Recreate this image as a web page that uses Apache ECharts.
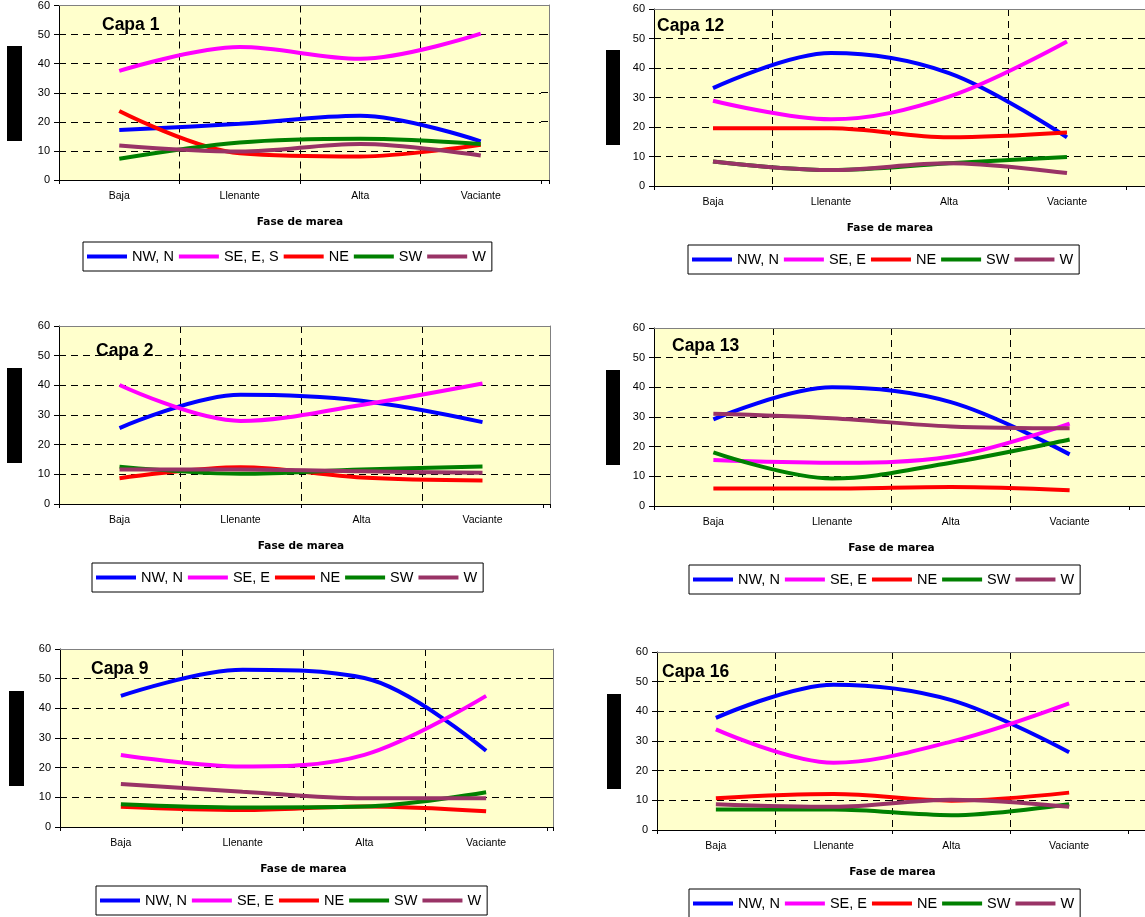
<!DOCTYPE html>
<html><head><meta charset="utf-8">
<script src="https://cdn.jsdelivr.net/npm/echarts@6/dist/echarts.min.js"></script>
<style>html,body{margin:0;padding:0;background:#fff}#c{width:1145px;height:917px}</style>
</head><body><div id="c"></div>
<script>
// ---- data ----
const categories = ['Baja', 'Llenante', 'Alta', 'Vaciante'];
const namesCapa1 = ['NW, N', 'SE, E, S', 'NE', 'SW', 'W'];
const namesOther = ['NW, N', 'SE, E', 'NE', 'SW', 'W'];
const yMin = 0, yMax = 60, yStep = 10;

const capa1_NW = [17.2, 19.3, 22.1, 13.3];
const capa1_SE = [37.5, 45.7, 41.7, 50.3];
const capa1_NE = [23.7, 9.2, 8.1, 12.1];
const capa1_SW = [7.3, 12.9, 14.2, 12.4];
const capa1_W  = [11.9, 9.8, 12.4, 8.4];

const capa12_NW = [33.2, 45.1, 38.3, 16.5];
const capa12_SE = [28.9, 22.6, 30.3, 49.0];
const capa12_NE = [19.6, 19.6, 16.5, 18.1];
const capa12_SW = [8.3, 5.4, 7.7, 9.8];
const capa12_W  = [8.3, 5.4, 7.7, 4.4];

const capa2_NW = [25.6, 36.8, 34.8, 27.6];
const capa2_SE = [40.1, 28.0, 33.4, 40.6];
const capa2_NE = [8.7, 12.4, 8.9, 7.9];
const capa2_SW = [12.6, 10.2, 11.6, 12.6];
const capa2_W  = [11.6, 11.6, 11.0, 10.5];

const capa13_NW = [29.2, 40.0, 35.0, 17.4];
const capa13_SE = [15.5, 14.6, 16.7, 27.8];
const capa13_NE = [5.9, 5.9, 6.4, 5.3];
const capa13_SW = [18.1, 9.3, 14.6, 22.4];
const capa13_W  = [31.1, 29.6, 26.8, 26.2];

const capa9_NW = [44.2, 53.0, 50.2, 25.7];
const capa9_SE = [24.3, 20.4, 24.3, 44.2];
const capa9_NE = [6.8, 5.7, 6.9, 5.3];
const capa9_SW = [7.7, 6.6, 6.9, 11.7];
const capa9_W  = [14.5, 11.9, 9.7, 9.7];

const capa16_NW = [37.8, 49.0, 43.8, 26.2];
const capa16_SE = [33.9, 22.7, 29.8, 42.7];
const capa16_NE = [10.7, 12.1, 9.9, 12.6];
const capa16_SW = [6.9, 6.9, 5.0, 8.7];
const capa16_W  = [8.7, 7.8, 10.2, 7.8];

const xTitle = 'Fase de marea';

// ---- styles / layout ----
const colors = ['#0000FF', '#FF00FF', '#FF0000', '#008000', '#993366'];
const FONT = 'Liberation Sans';

const panels = [
  { title: 'Capa 1',  names: namesCapa1, data: [capa1_NW, capa1_SE, capa1_NE, capa1_SW, capa1_W],
    L: 59, T: 5, Bot: 180, B: 541, R: 549, tx: 102, ty: 16, lg: [83, 242], rect: [7, 46, 15, 95] },
  { title: 'Capa 12', names: namesOther, data: [capa12_NW, capa12_SE, capa12_NE, capa12_SW, capa12_W],
    L: 654, T: 9, Bot: 186, B: 1126, R: 1150, tx: 657, ty: 17, lg: [688, 245], rect: [606, 50, 14, 95] },
  { title: 'Capa 2',  names: namesOther, data: [capa2_NW, capa2_SE, capa2_NE, capa2_SW, capa2_W],
    L: 59, T: 326, Bot: 504, B: 543, R: 550, tx: 96, ty: 342, lg: [92, 563], rect: [7, 368, 15, 95] },
  { title: 'Capa 13', names: namesOther, data: [capa13_NW, capa13_SE, capa13_NE, capa13_SW, capa13_W],
    L: 654, T: 328, Bot: 506, B: 1129, R: 1150, tx: 672, ty: 337, lg: [689, 565], rect: [606, 370, 14, 95] },
  { title: 'Capa 9',  names: namesOther, data: [capa9_NW, capa9_SE, capa9_NE, capa9_SW, capa9_W],
    L: 60, T: 649, Bot: 827, B: 547, R: 553, tx: 91, ty: 660, lg: [96, 886], rect: [9, 691, 15, 95] },
  { title: 'Capa 16', names: namesOther, data: [capa16_NW, capa16_SE, capa16_NE, capa16_SW, capa16_W],
    L: 657, T: 652, Bot: 830, B: 1128, R: 1150, tx: 662, ty: 663, lg: [689, 889], rect: [607, 694, 14, 95] }
];

const dash = [7, 5];
const grid = [], xAxis = [], yAxis = [], series = [], title = [], legend = [], graphic = [];

panels.forEach((p, i) => {
  const H = p.Bot - p.T;
  grid.push({ left: p.L, top: p.T, width: p.B - p.L, height: H, show: true, backgroundColor: '#FFFFCC', borderWidth: 0 });
  grid.push({ left: p.B, top: p.T, width: p.R - p.B, height: H, show: true, backgroundColor: '#FFFFCC', borderWidth: 0 });
  const gm = 2 * i, ge = 2 * i + 1;
  // main bottom category axis
  xAxis.push({
    gridIndex: gm, type: 'category', data: categories, boundaryGap: true, position: 'bottom',
    axisLine: { onZero: false, lineStyle: { color: '#000', width: 1 } },
    axisTick: { show: true, length: 4, lineStyle: { color: '#000' } },
    axisLabel: { fontSize: 10.5, color: '#000', margin: 11, fontFamily: FONT },
    splitLine: { show: true, showMinLine: false, showMaxLine: false, lineStyle: { color: '#000', type: dash, width: 1 } },
    name: xTitle, nameLocation: 'middle', nameGap: 37,
    nameTextStyle: { fontWeight: 'bold', fontSize: 10.5, fontFamily: 'DejaVu Sans', color: '#000' }
  });
  // main top border
  xAxis.push({
    gridIndex: gm, type: 'category', data: categories, position: 'top',
    axisLine: { onZero: false, lineStyle: { color: '#808080', width: 1 } },
    axisTick: { show: false }, axisLabel: { show: false }, splitLine: { show: false }
  });
  // extension bottom
  xAxis.push({
    gridIndex: ge, type: 'category', data: [''], position: 'bottom', boundaryGap: true,
    axisLine: { onZero: false, lineStyle: { color: '#000', width: 1 } },
    axisTick: { show: true, length: 4, lineStyle: { color: '#000' } }, axisLabel: { show: false }, splitLine: { show: false }
  });
  // extension top
  xAxis.push({
    gridIndex: ge, type: 'category', data: [''], position: 'top',
    axisLine: { onZero: false, lineStyle: { color: '#808080', width: 1 } },
    axisTick: { show: false }, axisLabel: { show: false }, splitLine: { show: false }
  });
  yAxis.push({
    gridIndex: gm, type: 'value', min: yMin, max: yMax, interval: yStep, position: 'left',
    axisLine: { show: true, lineStyle: { color: '#000', width: 1 } },
    axisTick: { show: true, length: 5, lineStyle: { color: '#000' } },
    axisLabel: { fontSize: 11, color: '#000', margin: 9, fontFamily: FONT },
    splitLine: { show: true, showMinLine: false, showMaxLine: false, lineStyle: { color: '#000', type: dash, width: 1 } }
  });
  yAxis.push({
    gridIndex: ge, type: 'value', min: yMin, max: yMax, interval: yStep, position: 'right',
    axisLine: { show: true, lineStyle: { color: '#808080', width: 1 } },
    axisTick: { show: false }, axisLabel: { show: false },
    splitLine: { show: true, showMinLine: false, showMaxLine: false, lineStyle: { color: '#000', type: dash, width: 1 } }
  });
  p.data.forEach((vals, k) => {
    series.push({
      type: 'line', name: p.names[k], xAxisIndex: 4 * i, yAxisIndex: 2 * i,
      data: vals, smooth: 0.35, symbol: 'none', showSymbol: false,
      lineStyle: { color: colors[k], width: 4 }, itemStyle: { color: colors[k] },
      emphasis: { disabled: true }, silent: true
    });
  });
  title.push({
    text: p.title, left: p.tx, top: p.ty, padding: 0,
    textStyle: { fontSize: 17.5, fontWeight: 'bold', fontFamily: FONT, color: '#000' }
  });
  legend.push({
    left: p.lg[0], top: p.lg[1], orient: 'horizontal', data: p.names,
    icon: 'rect', itemWidth: 40, itemHeight: 4, itemGap: 5,
    padding: [7, 6, 7, 4], borderColor: '#000', borderWidth: 1, selectedMode: false,
    textStyle: { fontSize: 14.5, fontFamily: FONT, color: '#000' }
  });
  graphic.push({ type: 'rect', shape: { x: p.rect[0], y: p.rect[1], width: p.rect[2], height: p.rect[3] }, style: { fill: '#000' } });
});

const chart = echarts.init(document.getElementById('c'), null, { renderer: 'canvas' });
chart.setOption({
  animation: false,
  backgroundColor: '#fff',
  color: colors,
  title, legend, grid, xAxis, yAxis, series, graphic
});
</script>
</body></html>
